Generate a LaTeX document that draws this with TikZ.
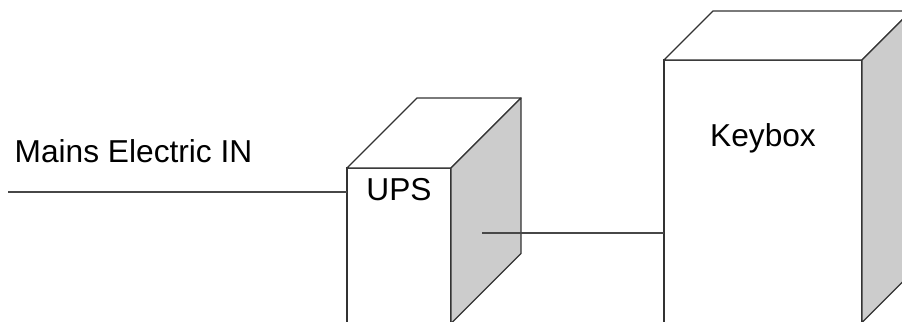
\documentclass[tikz,border=0pt]{standalone}
\usepackage{fontspec}
\setmainfont{Liberation Sans}
\usetikzlibrary{calc}
\definecolor{sidegrey}{HTML}{CCCCCC}
\definecolor{edge}{HTML}{333333}
\tikzset{
  face/.style={draw=edge, line width=1.3bp, fill=white, inner sep=0pt, outer sep=0pt},
  sideface/.style={draw=edge, line width=1.3bp, fill=sidegrey, line join=round},
  topface/.style={draw=edge, line width=1.3bp, fill=white, line join=round},
  wire/.style={draw=edge!90, line width=1.3bp},
  lbl/.style={inner sep=0pt, outer sep=0pt, font=\fontsize{31.8}{36}\selectfont, text=black}
}
\begin{document}
\begin{tikzpicture}[x=1bp, y=-1bp]
\useasboundingbox (0,0) rectangle (902,321);
\clip (0,0) rectangle (902,321);
% UPS front face
\node[face, minimum width=104bp, minimum height=155.5bp] (ups) at (399,245.75) {};
\coordinate (upsbl) at ($(ups.north west)+(70,-70)$);
\coordinate (upsbr) at ($(ups.north east)+(70,-70)$);
\coordinate (upsbb) at ($(ups.south east)+(70,-70)$);
\draw[topface] (ups.north west) -- (upsbl) -- (upsbr) -- (ups.north east) -- cycle;
\draw[sideface] (ups.north east) -- (upsbr) -- (upsbb) -- (ups.south east) -- cycle;
% Keybox front face
\node[face, minimum width=198bp, minimum height=262.5bp] (key) at (763,191.25) {};
\coordinate (keybl) at ($(key.north west)+(49,-49)$);
\coordinate (keybr) at ($(key.north east)+(49,-49)$);
\coordinate (keybb) at ($(key.south east)+(49,-49)$);
\draw[topface] (key.north west) -- (keybl) -- (keybr) -- (key.north east) -- cycle;
\draw[sideface] (key.north east) -- (keybr) -- (keybb) -- (key.south east) -- cycle;
% labels
\node[lbl, anchor=base] (upslabel) at (399,200) {UPS};
\node[lbl, anchor=base] (keylabel) at (763,146.7) {Keybox};
\node[lbl, anchor=base west] (mainslabel) at (14.7,162.3) {Mains Electric IN};
% connectors
\coordinate (mainsin) at (8,192);
\draw[wire] (mainsin) -- (ups.west |- mainsin);
\coordinate (upsout) at (482,233);
\draw[wire] (upsout) -- (key.west |- upsout);
\end{tikzpicture}
\end{document}
